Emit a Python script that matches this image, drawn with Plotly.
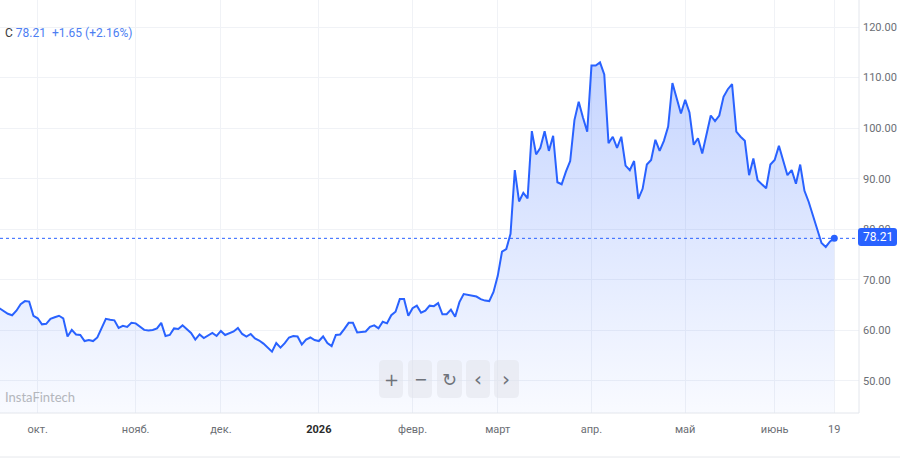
import plotly.graph_objects as go
import pandas as pd

# ---------------- data ----------------
start_date = "2025-09-18"
values = [
    64.4, 63.8, 63.3, 63.0, 63.9, 65.2, 65.8, 65.7, 62.9, 62.4,
    61.2, 61.3, 62.3, 62.6, 62.9, 62.4, 58.8, 60.1, 59.2, 59.1,
    57.9, 58.1, 57.9, 58.6, 60.5, 62.3, 62.1, 62.0, 60.5, 60.9,
    60.7, 61.5, 61.4, 60.8, 60.1, 60.0, 60.1, 60.4, 61.5, 58.9,
    59.1, 60.4, 60.3, 61.0, 60.3, 59.5, 58.2, 59.2, 58.5, 59.0,
    59.5, 58.9, 59.9, 59.1, 59.4, 59.8, 60.5, 59.3, 58.8, 59.3,
    58.4, 58.0, 57.4, 56.6, 55.8, 57.5, 56.6, 57.5, 58.6, 58.9,
    58.8, 57.2, 58.2, 58.6, 58.1, 57.9, 58.8, 57.5, 56.9, 59.1,
    59.2, 60.3, 61.5, 61.5, 59.6, 59.7, 59.8, 60.7, 61.0, 60.4,
    61.7, 61.4, 63.0, 63.7, 66.2, 66.2, 62.9, 64.4, 64.9, 63.5,
    63.9, 64.9, 64.8, 65.4, 63.2, 63.2, 64.1, 62.7, 65.6, 67.2,
    67.0, 66.9, 66.7, 66.2, 65.9, 65.8, 67.6, 70.8, 75.6, 76.1,
    79.1, 91.7, 85.5, 87.2, 86.1, 99.4, 94.8, 96.1, 99.4, 95.5,
    98.5, 89.3, 88.9, 91.4, 93.5, 101.6, 105.2, 102.1, 99.3, 112.4,
    112.4, 113.0, 110.6, 97.0, 98.3, 96.1, 98.3, 92.6, 91.7, 93.5,
    86.0, 88.0, 92.8, 93.7, 97.7, 95.5, 97.5, 100.3, 108.9, 105.9,
    102.9, 105.6, 103.1, 96.7, 98.0, 95.0, 98.6, 102.5, 101.4, 102.5,
    106.2, 107.7, 108.7, 99.3, 98.3, 97.5, 90.7, 94.0, 89.7, 88.9,
    88.1, 92.8, 93.7, 96.5, 93.5, 90.7, 91.7, 89.0, 92.8, 87.6,
    85.4, 82.6, 80.0, 77.3, 76.5, 77.6, 78.21,
]
tick_dates = ["2025-10-01", "2025-11-01", "2025-12-01", "2026-01-01", "2026-02-01",
              "2026-03-01", "2026-04-01", "2026-05-01", "2026-06-01", "2026-06-19"]
tick_labels = ["окт.", "нояб.", "дек.", "<b><span style='color:#2b2b2b'>2026</span></b>", "февр.",
               "март", "апр.", "май", "июнь", "19"]
y_ticks = [50, 60, 70, 80, 90, 100, 110, 120]
symbol = "C"
last_value = 78.21
change = 1.65
change_pct = 2.16

# ---------------- figure ----------------
W, H = 900, 459
ML, MR, MT, MB = 0, 41, 0, 46
PW, PH = W - ML - MR, H - MT - MB

dates = pd.bdate_range(start_date, periods=len(values))
x = list(range(len(values)))
tick_pos = [int(dates.searchsorted(pd.Timestamp(d))) for d in tick_dates]

BLUE = "#2962FF"
GRID = "#f0f2f6"

fig = go.Figure()
fig.add_trace(go.Scatter(
    x=x, y=values, mode="lines",
    line=dict(color=BLUE, width=2),
    fill="tozeroy",
    fillgradient=dict(type="vertical", start=44, stop=113,
                      colorscale=[[0, "rgba(41,98,255,0.03)"], [1, "rgba(41,98,255,0.27)"]]),
    customdata=[d.strftime("%Y-%m-%d") for d in dates],
    hovertemplate="%{customdata}: %{y:.2f}<extra></extra>",
    showlegend=False,
))
fig.add_trace(go.Scatter(
    x=[x[-1]], y=[values[-1]], mode="markers",
    marker=dict(color=BLUE, size=7), showlegend=False, hoverinfo="skip",
))

def px2paper_x(px):
    return (px - ML) / PW

def px2paper_y(py):
    return (H - MB - py) / PH

def rounded_rect(x0, y0, x1, y1, r):
    # pixel coords -> paper path with rounded corners
    X = px2paper_x
    Y = px2paper_y
    return (f"M {X(x0 + r)} {Y(y0)} L {X(x1 - r)} {Y(y0)} Q {X(x1)} {Y(y0)} {X(x1)} {Y(y0 + r)} "
            f"L {X(x1)} {Y(y1 - r)} Q {X(x1)} {Y(y1)} {X(x1 - r)} {Y(y1)} "
            f"L {X(x0 + r)} {Y(y1)} Q {X(x0)} {Y(y1)} {X(x0)} {Y(y1 - r)} "
            f"L {X(x0)} {Y(y0 + r)} Q {X(x0)} {Y(y0)} {X(x0 + r)} {Y(y0)} Z")

shapes = []
# dotted last-price line
shapes.append(dict(type="line", xref="paper", yref="y", x0=0, x1=1, y0=last_value, y1=last_value,
                   line=dict(color=BLUE, width=1, dash="dot"), layer="above"))
# right border and bottom line
shapes.append(dict(type="line", xref="paper", yref="paper", x0=1, x1=1, y0=0, y1=1,
                   line=dict(color="#e3e6ec", width=1)))
shapes.append(dict(type="line", xref="paper", yref="paper", x0=0, x1=1, y0=0, y1=0,
                   line=dict(color="#e3e6ec", width=1)))
shapes.append(dict(type="line", xref="paper", yref="paper", x0=0, x1=W / PW, y0=px2paper_y(457),
                   y1=px2paper_y(457), line=dict(color="#e6e8ec", width=1)))
# price label box on axis
shapes.append(dict(type="path", xref="paper", yref="paper",
                   path=rounded_rect(858, 228, 897, 246, 3),
                   fillcolor=BLUE, line=dict(width=0), layer="above"))
# navigation buttons
btns = [(379, 403), (408, 432), (437, 462), (466, 490), (494, 519)]
for bx0, bx1 in btns:
    shapes.append(dict(type="path", xref="paper", yref="paper",
                       path=rounded_rect(bx0, 360, bx1, 398, 5),
                       fillcolor="rgba(225,228,235,0.55)", line=dict(width=0), layer="above"))

annotations = []
annotations.append(dict(xref="paper", yref="paper", x=px2paper_x(878), y=px2paper_y(237),
                        text=f"{last_value:.2f}", showarrow=False,
                        font=dict(color="white", size=12, family="Roboto"),
                        xanchor="center", yanchor="middle"))
annotations.append(dict(xref="paper", yref="paper", x=px2paper_x(3), y=px2paper_y(33),
                        text=(f"<span style='color:#3a3a3a'>{symbol}</span> "
                              f"<span style='color:#4d7ef2'>{last_value:.2f}  +{change:.2f} (+{change_pct:.2f}%)</span>"),
                        showarrow=False, font=dict(size=12, family="Roboto"),
                        xanchor="left", yanchor="middle"))
annotations.append(dict(xref="paper", yref="paper", x=px2paper_x(3), y=px2paper_y(397),
                        text="InstaFintech", showarrow=False,
                        font=dict(size=13, color="#b3b6bc", family="Lato"),
                        xanchor="left", yanchor="middle"))
icons = ["+", "−", "↻", "‹", "›"]
isizes = [18, 16, 18, 20, 20]
for (bx0, bx1), ic, s in zip(btns, icons, isizes):
    annotations.append(dict(xref="paper", yref="paper", x=px2paper_x((bx0 + bx1) / 2),
                            y=px2paper_y(379), text=ic, showarrow=False,
                            font=dict(size=s, color="#6f737a", family="DejaVu Sans"),
                            xanchor="center", yanchor="middle"))

fig.update_layout(
    width=W, height=H,
    margin=dict(l=ML, r=MR, t=MT, b=MB),
    paper_bgcolor="white", plot_bgcolor="white",
    shapes=shapes, annotations=annotations,
    xaxis=dict(range=[0.15, 201.8], tickvals=tick_pos, ticktext=tick_labels,
               showgrid=True, gridcolor=GRID, gridwidth=1, zeroline=False,
               showline=False, ticks="", ticklabelstandoff=8,
               tickfont=dict(size=11, color="#6b6e74", family="Roboto"),
               fixedrange=True),
    yaxis=dict(range=[43.67, 125.34], side="right", tickvals=y_ticks,
               ticktext=[f"{v:.2f}" for v in y_ticks],
               showgrid=True, gridcolor=GRID, gridwidth=1, zeroline=False,
               showline=False, ticks="", ticklabelstandoff=3,
               tickfont=dict(size=11, color="#6b6e74", family="Roboto"),
               fixedrange=True),
    hovermode="closest",
)

fig.write_html("out.html")
